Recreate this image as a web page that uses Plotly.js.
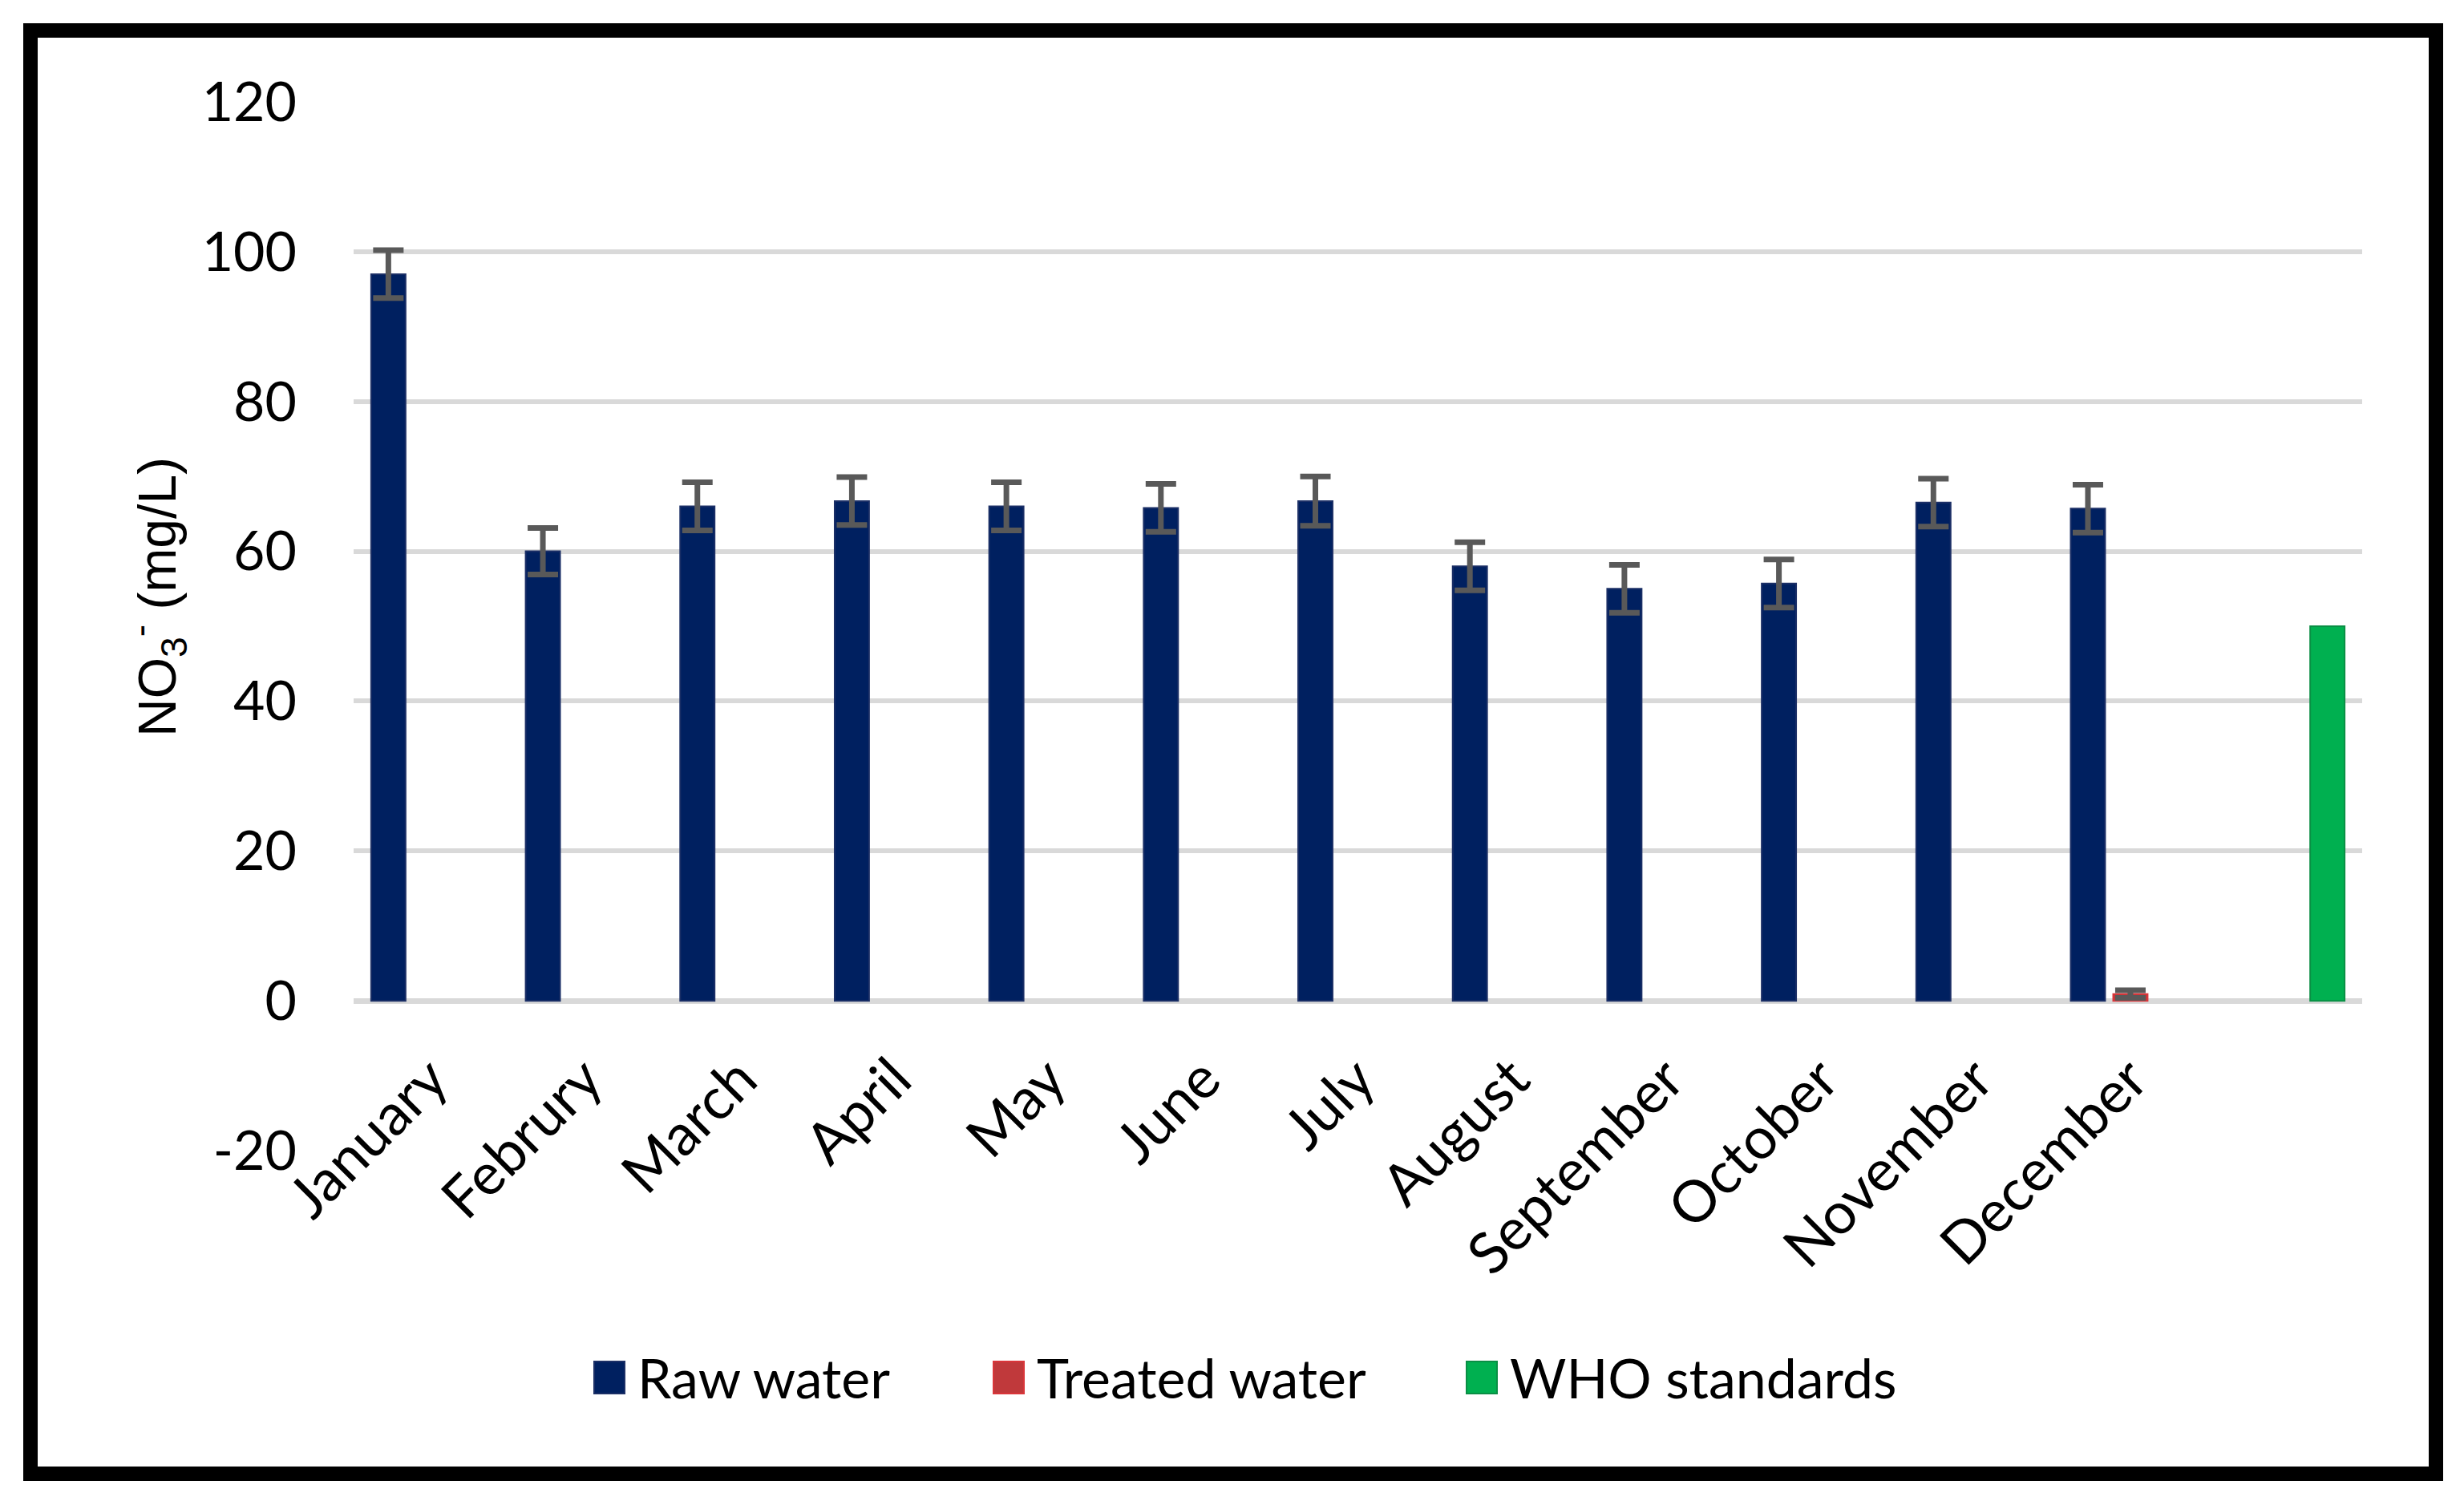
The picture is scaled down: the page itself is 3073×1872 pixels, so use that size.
<!DOCTYPE html>
<html>
<head>
<meta charset="utf-8">
<script src="https://cdn.plot.ly/plotly-3.0.1.min.js"></script>
<style>html,body{margin:0;padding:0;background:#fff;}#chart{width:3073px;height:1872px;}</style>
</head>
<body>
<div id="chart"></div>
<script>
// ---- data ----
const categories = ['January','Februry','March','April','May','June','July','August','September','October','November','December','WHO'];
const tickLabels = ['January','Februry','March','April','May','June','July','August','September','October','November','December',''];
const seriesNames = ['Raw water', 'Treated water', 'WHO standards'];
const rawWater   = [97, 60, 66, 66.7, 66, 65.8, 66.7, 58, 55, 55.7, 66.5, 65.7, null];
const rawErr     = [3.2, 3.1, 3.2, 3.2, 3.2, 3.2, 3.3, 3.2, 3.2, 3.2, 3.2, 3.2, 0];
const treatedWater = [null, null, null, null, null, null, null, null, null, null, null, 0.9, null];
const treatedErr   = [0, 0, 0, 0, 0, 0, 0, 0, 0, 0, 0, 0.5, 0];
const whoStandard  = [null, null, null, null, null, null, null, null, null, null, null, null, 50];
const yTickVals = [-20, 0, 20, 40, 60, 80, 100, 120];
const yTickText = ['-20', '0', '20', '40', '60', '80', '100', '120'];
const yRange = [-20, 120];
const yTitle = 'NO<sub>3</sub><sup>-</sup> (mg/L)';

// ---- styles ----
const W = 3073, H = 1872;
const M = {l: 441, r: 127, t: 127, b: 437};
const PW = W - M.l - M.r, PH = H - M.t - M.b;
const px2x = p => (p - M.l) / PW;
const px2y = p => (H - M.b - p) / PH;
const tickFont = {family: 'Lato, Calibri, sans-serif', size: 68, color: '#000'};
const xTickFont = {family: 'Lato, Calibri, sans-serif', size: 72, color: '#000'};
const errStyle = {type: 'data', visible: true, color: '#595959', thickness: 7, width: 19};
const fills = ['#002060', '#c0393b', '#00b050'];
const edges = ['#1b2f66', '#d9363a', '#0a8f45'];

const traces = [
  {type: 'bar', name: seriesNames[0], x: categories, y: rawWater,
   marker: {color: fills[0], line: {color: edges[0], width: 2}},
   error_y: Object.assign({array: rawErr}, errStyle)},
  {type: 'bar', name: seriesNames[1], x: categories, y: treatedWater,
   marker: {color: fills[1], line: {color: edges[1], width: 2}},
   error_y: Object.assign({array: treatedErr}, errStyle)},
  {type: 'bar', name: seriesNames[2], x: categories, y: whoStandard,
   marker: {color: fills[2], line: {color: edges[2], width: 2}}}
];

// custom legend (larger swatches, as in the reference)
const legendSwatchX = [741, 1239, 1829];
const legendY = 1718;
const shapes = [{type: 'rect', xref: 'paper', yref: 'paper',
  x0: px2x(38), x1: px2x(3038), y0: px2y(1838), y1: px2y(38),
  line: {color: '#000', width: 18}, fillcolor: 'rgba(0,0,0,0)', layer: 'above'}];
const annotations = [{xref: 'paper', yref: 'paper', x: px2x(196), y: px2y(745),
  text: yTitle, textangle: -90, showarrow: false, xanchor: 'center', yanchor: 'middle',
  font: {family: 'Liberation Sans, Arial, sans-serif', size: 66, color: '#000'}}];
seriesNames.forEach((nm, i) => {
  const sx = legendSwatchX[i];
  shapes.push({type: 'rect', xref: 'paper', yref: 'paper',
    x0: px2x(sx), x1: px2x(sx + 38), y0: px2y(legendY + 20), y1: px2y(legendY - 20),
    fillcolor: fills[i], line: {color: edges[i], width: 2}});
  annotations.push({xref: 'paper', yref: 'paper', x: px2x(sx + 52), y: px2y(legendY),
    text: nm, showarrow: false, xanchor: 'left', yanchor: 'middle', font: tickFont});
});

const layout = {
  width: W, height: H,
  margin: M,
  paper_bgcolor: '#fff', plot_bgcolor: '#fff',
  barmode: 'group', bargap: 0.175, bargroupgap: 0.19,
  showlegend: false,
  xaxis: {type: 'category', categoryorder: 'array', categoryarray: categories,
          tickmode: 'array', tickvals: categories, ticktext: tickLabels,
          tickangle: -45, tickfont: xTickFont, showgrid: false, showline: false,
          ticks: '', anchor: 'free',
          position: (0 - yRange[0]) / (yRange[1] - yRange[0]),
          ticklabelstandoff: 40},
  yaxis: {range: yRange, tickmode: 'array', tickvals: yTickVals, ticktext: yTickText,
          tickfont: tickFont, showgrid: true, gridcolor: '#d9d9d9', gridwidth: 6,
          zeroline: true, zerolinecolor: '#d9d9d9', zerolinewidth: 7, showline: false,
          ticks: '', ticklabelstandoff: 70},
  shapes: shapes,
  annotations: annotations
};

Plotly.newPlot('chart', traces, layout, {displayModeBar: false, staticPlot: true});
</script>
</body>
</html>
